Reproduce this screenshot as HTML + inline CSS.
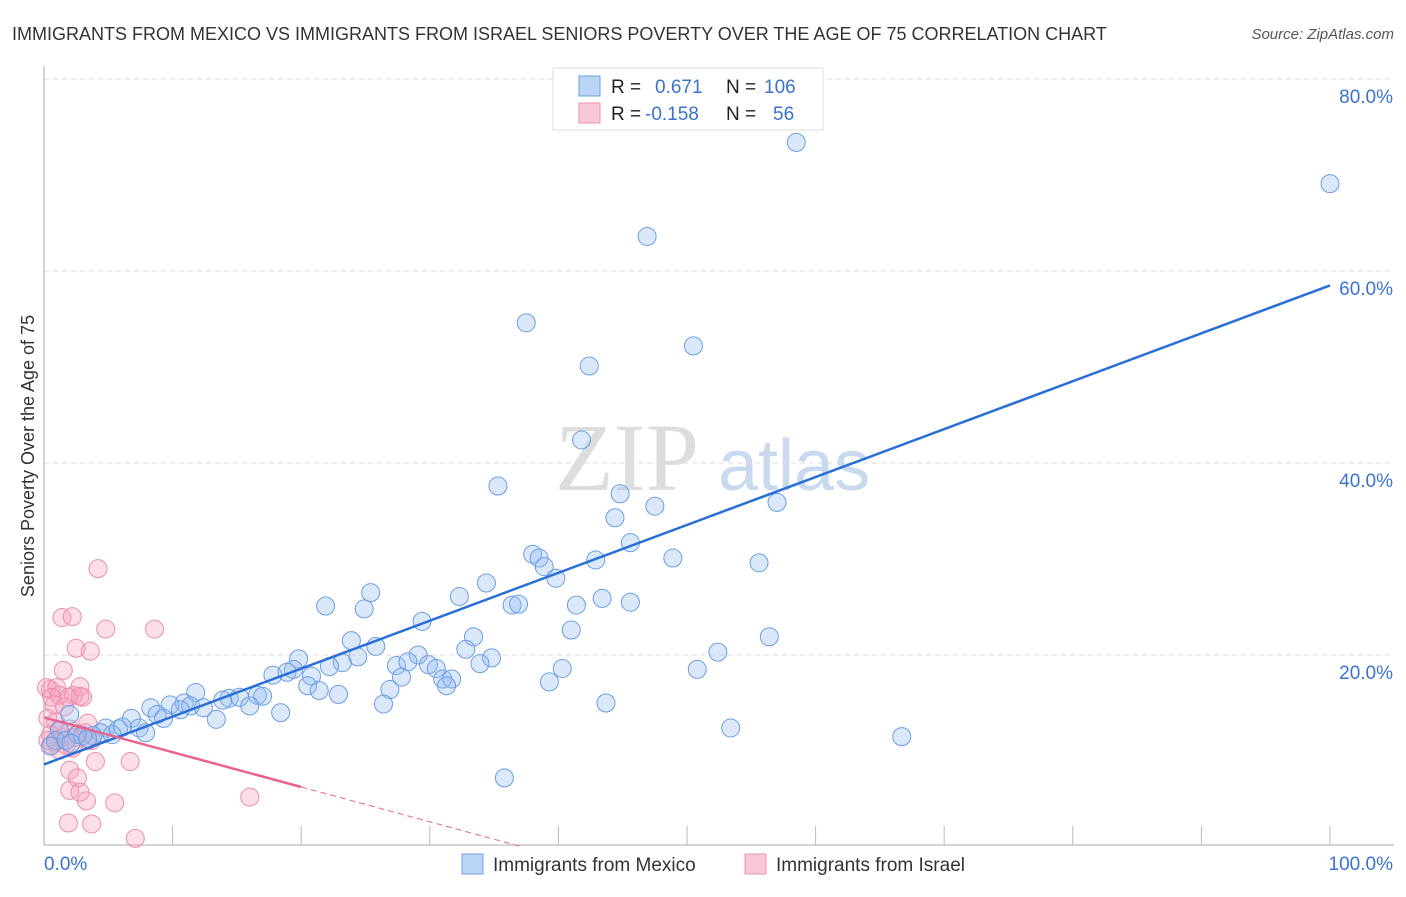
<!DOCTYPE html>
<html><head><meta charset="utf-8"><style>
body{margin:0;background:#fff;font-family:"Liberation Sans",sans-serif}
</style></head><body>
<svg id="c" width="1406" height="892" xmlns="http://www.w3.org/2000/svg">
<text x="12" y="40" font-size="18" fill="#333">IMMIGRANTS FROM MEXICO VS IMMIGRANTS FROM ISRAEL SENIORS POVERTY OVER THE AGE OF 75 CORRELATION CHART</text>
<text x="1394" y="39" font-size="15" fill="#555" font-style="italic" text-anchor="end">Source: ZipAtlas.com</text>
<text x="34" y="456" font-size="18" fill="#333" text-anchor="middle" transform="rotate(-90 34 456)">Seniors Poverty Over the Age of 75</text>
<g><text x="555" y="490" font-size="96" fill="#ddd" font-family="Liberation Serif,serif">ZIP</text><text x="718" y="490" font-size="72" fill="#c9d9ef">atlas</text></g>
<g id="grid"></g><g id="axes"></g><g id="pts"></g><g id="lines"></g>
<g>
<rect x="553" y="68" width="270" height="62" fill="#fff" stroke="#ddd"/>
<rect x="579" y="76" width="21" height="20" fill="#b9d4f5" stroke="#6fa0e0"/>
<rect x="579" y="103" width="21" height="20" fill="#f9c8d6" stroke="#eb96b0"/>
<text x="611" y="93" font-size="19" fill="#222">R = </text><text x="655" y="93" font-size="19" fill="#3a72d0">0.671</text>
<text x="726" y="93" font-size="19" fill="#222">N = </text><text x="764" y="93" font-size="19" fill="#3a72d0">106</text>
<text x="611" y="120" font-size="19" fill="#222">R = </text><text x="645" y="120" font-size="19" fill="#3a72d0">-0.158</text>
<text x="726" y="120" font-size="19" fill="#222">N = </text><text x="773" y="120" font-size="19" fill="#3a72d0">56</text>
</g>
<g>
<rect x="462" y="854" width="21" height="20" fill="#b9d4f5" stroke="#6fa0e0"/>
<text x="493" y="871" font-size="19" fill="#333">Immigrants from Mexico</text>
<rect x="745" y="854" width="21" height="20" fill="#f9c8d6" stroke="#eb96b0"/>
<text x="776" y="871" font-size="19" fill="#333">Immigrants from Israel</text>
</g>
</svg>
<script>
const yTicks=[20,40,60,80];
const yTickLabels=["20.0%","40.0%","60.0%","80.0%"];
const xTickVals=[0,10,20,30,40,50,60,70,80,90,100];
const mexicoX=[58.5,100,46.9,37.5,50.5,42.4,41.8,35.3,44.8,47.5,57,44.4,45.6,38,38.5,38.9,42.9,48.9,55.6,39.8,34.4,25.4,32.3,43.4,45.6,21.9,24.9,36.4,36.9,41.4,29.4,41,33.4,56.4,23.9,25.8,32.8,52.4,19.8,24.4,29.1,34.8,27.4,28.3,23.2,29.9,30.5,33.9,40.3,22.2,19.4,17.8,18.9,20.8,27.8,31,31.7,50.8,39.3,20.5,21.4,22.9,26.9,31.3,26.4,43.7,11.8,14.4,15.2,16.6,17,13.9,16,10.9,9.8,11.4,12.4,10.6,8.3,8.8,9.3,13.4,18.4,6.8,7.4,4.8,5.8,6.1,7.9,4.4,5.3,3.8,3,2.6,3.4,2,1.2,0.9,0.5,53.4,66.7,35.8,1.7,2.1];
const mexicoY=[73.4,69.1,63.6,54.6,52.2,50.1,42.4,37.6,36.8,35.5,35.9,34.3,31.7,30.5,30.1,29.2,29.9,30.1,29.6,28,27.5,26.5,26.1,25.9,25.5,25.1,24.8,25.2,25.3,25.2,23.5,22.6,21.9,21.9,21.5,20.9,20.6,20.3,19.6,19.8,20,19.7,18.9,19.3,19.2,19,18.6,19.1,18.6,18.8,18.5,17.9,18.2,17.8,17.7,17.5,17.5,18.5,17.2,16.8,16.3,15.9,16.4,16.8,14.9,15,16.1,15.5,15.6,15.8,15.7,15.3,14.7,15,14.8,14.7,14.5,14.3,14.5,13.8,13.4,13.3,14,13.4,12.4,12.4,12.3,12.5,11.9,11.9,11.7,11.6,11.6,11.7,11.3,13.8,12.2,11.1,10.5,12.4,11.5,7.2,11.1,10.8];
const israelX=[4.2,1.4,2.2,4.8,8.6,2.5,3.6,1.5,0.5,0.2,1,0.6,1.2,2.8,2.3,3,1.9,2.8,0.8,1.6,0.3,0.9,3.4,1.2,2,2.6,0.5,1.4,3.2,3.7,0.9,1.7,0.6,2.2,1.2,0.3,3.4,2.4,4,6.7,2,2.6,2,2.8,3.3,5.5,1.9,3.7,16,7.1];
const israelY=[29,23.9,24,22.7,22.7,20.7,20.4,18.4,16.4,16.6,16.6,15.6,15.8,16.7,15.8,15.6,15.6,15.7,14.8,14.6,13.4,13,12.9,12.1,12.3,11.8,11.7,11.4,11.9,11.1,10.9,10.6,10.6,10.3,10.1,11.1,11.1,11.4,8.9,8.9,8,7.2,5.9,5.7,4.8,4.6,2.5,2.4,5.2,0.9];
const mexicoFit=[8.6,58.5];
const israelFit=[13.5,-0.3625];
const X0=44,X1=1330,Y0=847,YS=9.6;
const sx=v=>X0+(X1-X0)*v/100, sy=v=>Y0-v*YS;
const NS="http://www.w3.org/2000/svg";
function mk(p,t,a){const e=document.createElementNS(NS,t);for(const k in a)e.setAttribute(k,a[k]);document.getElementById(p).appendChild(e);return e;}
yTicks.forEach((v,i)=>{
 const l=mk('grid','line',{x1:X0,x2:1394,y1:sy(v),y2:sy(v),stroke:'#ddd','stroke-dasharray':'5,4'});
 
 
 const t=mk('grid','text',{x:1393,y:sy(v)+24,'font-size':19,fill:'#3a72d0','text-anchor':'end'});t.textContent=yTickLabels[i];
 
 
});
const ax=mk('axes','line',{x1:X0,x2:X0,y1:66,y2:845,stroke:'#aaa'});


const bx=mk('axes','line',{x1:X0,x2:1394,y1:845,y2:845,stroke:'#aaa'});


xTickVals.forEach(v=>{if(v>0){const t=mk('axes','line',{x1:sx(v),x2:sx(v),y1:826,y2:845,stroke:'#bbb'});
 
 }});
const xl=mk('axes','text',{x:44,y:870,'font-size':19,fill:'#3a72d0'});xl.textContent='0.0%';


const xr=mk('axes','text',{x:1393,y:870,'font-size':19,fill:'#3a72d0','text-anchor':'end'});xr.textContent='100.0%';


israelX.forEach((x,i)=>{const c=mk('pts','circle',{cx:sx(x),cy:sy(israelY[i]),r:9,fill:'rgba(245,160,185,0.35)',stroke:'#eb8fab','stroke-width':1});
 
 });
mexicoX.forEach((x,i)=>{const c=mk('pts','circle',{cx:sx(x),cy:sy(mexicoY[i]),r:9,fill:'rgba(150,190,240,0.35)',stroke:'#6b9ee3','stroke-width':1});
 
 });
const bl=mk('lines','line',{x1:sx(0),y1:sy(mexicoFit[0]),x2:sx(100),y2:sy(mexicoFit[1]),stroke:'#2a6fd6','stroke-width':2.5});


const pl=mk('lines','line',{x1:sx(0),y1:sy(israelFit[0]),x2:sx(20),y2:sy(israelFit[0]+israelFit[1]*20),stroke:'#e8638f','stroke-width':2.5});


const xe=israelFit[0]/-israelFit[1];
const pd=mk('lines','line',{x1:sx(20),y1:sy(israelFit[0]+israelFit[1]*20),x2:sx(xe),y2:sy(0),stroke:'#e8638f','stroke-width':1,'stroke-dasharray':'6,4'});


</script>
</body></html>
